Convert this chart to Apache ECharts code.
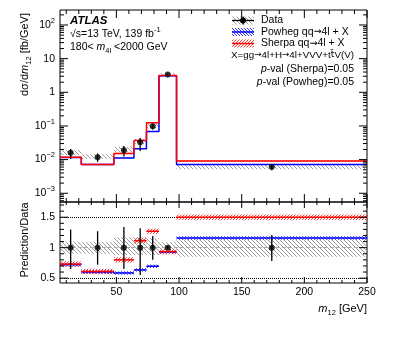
<!DOCTYPE html>
<html>
<head>
<meta charset="utf-8">
<script src="https://cdn.jsdelivr.net/npm/echarts@6/dist/echarts.min.js"></script>
<style>
html, body { margin: 0; padding: 0; background: #fff; }
#chart { width: 399px; height: 337px; }
</style>
</head>
<body>
<div id="chart"></div>
<script>
// m12 bin edges [GeV]
const binEdges = [5, 22, 48, 64, 74, 84, 98, 250];
// measured dsigma/dm12 [fb/GeV] with error bars
const dataVal = [0.016, 0.0118, 0.019, 0.033, 0.098, 3.36, 0.0061];
const dataLo = [0.0105, 0.0086, 0.0124, 0.018, 0.078, 3.2, 0.0048];
const dataHi = [0.0208, 0.0152, 0.0255, 0.044, 0.117, 3.5, 0.0074];
// hatched grey band (top panel)
const bandLo = [0.0135, 0.0105, 0.0165, 0.029, 0.085, 3.0, 0.0052];
const bandHi = [0.019, 0.0145, 0.024, 0.041, 0.115, 3.7, 0.0069];
// predictions
const sherpaVal = [0.0117, 0.0072, 0.0152, 0.0368, 0.124, 3.14, 0.0091];
const powhegVal = [0.0115, 0.0071, 0.0111, 0.021, 0.068, 3.12, 0.0071];
// ratio panel
const sherpaRatio = [0.73, 0.61, 0.80, 1.115, 1.27, 0.935, 1.50];
const powhegRatio = [0.72, 0.60, 0.585, 0.635, 0.695, 0.93, 1.16];
const sherpaUnc = [0.045, 0.045, 0.045, 0.045, 0.045, 0.045, 0.045];
const powhegUnc = [0.028, 0.028, 0.028, 0.028, 0.028, 0.028, 0.028];
const ratioData = [1, 1, 1, 1, 1, 1, 1];
const ratioErrLo = [0.65, 0.72, 0.65, 0.55, 0.80, 0.97, 0.78];
const ratioErrHi = [1.30, 1.27, 1.34, 1.32, 1.19, 1.03, 1.21];
const ratioBandLo = [0.90, 0.90, 0.88, 0.88, 0.88, 0.90, 0.85];
const ratioBandHi = [1.10, 1.09, 1.17, 1.17, 1.15, 1.09, 1.14];

const FF = '"Liberation Sans", Arial, sans-serif';
const chart = echarts.init(document.getElementById('chart'));

function hatch(color, dir, step, lw) {
  const c = document.createElement('canvas');
  c.width = step; c.height = step;
  const g = c.getContext('2d');
  g.strokeStyle = color; g.lineWidth = lw;
  g.beginPath();
  for (let k = -step; k <= step; k += step) {
    if (dir === '\\') { g.moveTo(k, 0); g.lineTo(k + step, step); }
    else { g.moveTo(k, step); g.lineTo(k + step, 0); }
  }
  g.stroke();
  return { image: c, repeat: 'repeat' };
}
const greyHatch = hatch('#9a9a9a', '\\', 4, 1);
const redHatch = hatch('#ff4040', '/', 3, 1);
const blueHatch = hatch('#3030ff', '\\', 3, 1);

const mids = binEdges.slice(0, -1).map((e, i) => (e + binEdges[i + 1]) / 2);

function bandSeries(xi, lo, hi, fill, z) {
  return {
    type: 'custom', xAxisIndex: xi, yAxisIndex: xi, z: z, silent: true,
    data: lo.map((l, i) => [binEdges[i], binEdges[i + 1], l, hi[i]]),
    encode: { x: [0, 1], y: [2, 3] },
    renderItem: (params, api) => {
      const p0 = api.coord([api.value(0), api.value(3)]);
      const p1 = api.coord([api.value(1), api.value(2)]);
      return { type: 'rect', shape: { x: p0[0], y: p0[1], width: p1[0] - p0[0], height: p1[1] - p0[1] }, style: { fill: fill } };
    }
  };
}
function segSeries(xi, vals, color, z) {
  return {
    type: 'custom', xAxisIndex: xi, yAxisIndex: xi, z: z, silent: true,
    data: vals.map((v, i) => [binEdges[i], binEdges[i + 1], v]),
    encode: { x: [0, 1], y: 2 },
    renderItem: (params, api) => {
      const p0 = api.coord([api.value(0), api.value(2)]);
      const p1 = api.coord([api.value(1), api.value(2)]);
      return { type: 'line', shape: { x1: p0[0], y1: p0[1], x2: p1[0], y2: p1[1] }, style: { stroke: color, lineWidth: 1.5 } };
    }
  };
}
function stepSeries(vals, color, z) {
  const pts = vals.map((v, i) => [binEdges[i], v]);
  pts.push([binEdges[binEdges.length - 1], vals[vals.length - 1]]);
  return {
    type: 'line', xAxisIndex: 0, yAxisIndex: 0, z: z, step: 'end', silent: true,
    showSymbol: false, symbol: 'none', data: pts,
    lineStyle: { color: color, width: 1.5 }
  };
}
function errSeries(xi, lo, hi) {
  return {
    type: 'custom', xAxisIndex: xi, yAxisIndex: xi, z: 8, silent: true,
    data: lo.map((l, i) => [mids[i], l, hi[i]]),
    encode: { x: 0, y: [1, 2] },
    renderItem: (params, api) => {
      const a = api.coord([api.value(0), api.value(1)]);
      const b = api.coord([api.value(0), api.value(2)]);
      return { type: 'line', shape: { x1: a[0], y1: a[1], x2: b[0], y2: b[1] }, style: { stroke: '#000', lineWidth: 1.3 } };
    }
  };
}
function pointSeries(xi, vals) {
  return {
    type: 'scatter', xAxisIndex: xi, yAxisIndex: xi, z: 9, silent: true,
    symbol: 'circle', symbolSize: 6, itemStyle: { color: '#000' },
    data: vals.map((v, i) => [mids[i], v])
  };
}
// ticks on all four sides, ROOT style
function tickSeries(xi, yRef, yTicks, xLen) {
  const items = [];
  for (let v = 10; v <= 250; v += 10) items.push([v, yRef, v % 50 === 0 ? xLen[0] : xLen[1], 0]);
  yTicks.forEach(t => items.push([10, t[0], t[1], 1]));
  return {
    type: 'custom', xAxisIndex: xi, yAxisIndex: xi, z: 20, silent: true,
    data: items,
    encode: { x: 0, y: 1 },
    renderItem: (params, api) => {
      const cs = params.coordSys;
      const p = api.coord([api.value(0), api.value(1)]);
      const len = api.value(2);
      const st = { stroke: '#000', lineWidth: 1 };
      if (api.value(3) === 0) {
        return { type: 'group', children: [
          { type: 'line', shape: { x1: p[0], y1: cs.y + cs.height, x2: p[0], y2: cs.y + cs.height - len }, style: st },
          { type: 'line', shape: { x1: p[0], y1: cs.y, x2: p[0], y2: cs.y + len }, style: st }
        ] };
      }
      return { type: 'group', children: [
        { type: 'line', shape: { x1: cs.x, y1: p[1], x2: cs.x + len, y2: p[1] }, style: st },
        { type: 'line', shape: { x1: cs.x + cs.width, y1: p[1], x2: cs.x + cs.width - len, y2: p[1] }, style: st }
      ] };
    }
  };
}

const logMin = 0.00055, logMax = 279;
const logTicks = [];
for (let k = -4; k <= 2; k++) {
  for (let m = 1; m <= 9; m++) {
    const v = m * Math.pow(10, k);
    if (v > logMin && v < logMax) logTicks.push([v, m === 1 ? 8 : 4]);
  }
}
const ratioTicks = [];
for (let i = 5; i <= 17; i++) ratioTicks.push([i / 10, i % 5 === 0 ? 8 : 4]);

const lbl = { fontFamily: FF, fontSize: 10.5, color: '#000' };
const supRich = { sup: { fontFamily: FF, fontSize: 7.5, verticalAlign: 'top', lineHeight: 17 } };
const legRich = {
  a: { fontFamily: '"DejaVu Sans", sans-serif', fontSize: 9.5 },
  i: { fontFamily: FF, fontSize: 10.5, fontStyle: 'italic' }
};

const option = {
  animation: false,
  backgroundColor: '#fff',
  grid: [
    { left: 60, right: 32, top: 10, height: 192, show: true, borderColor: '#000', borderWidth: 1, backgroundColor: 'transparent' },
    { left: 60, right: 32, top: 202, height: 81, show: true, borderColor: '#000', borderWidth: 1, backgroundColor: 'transparent' }
  ],
  xAxis: [
    { type: 'value', gridIndex: 0, min: 5, max: 250, axisLine: { show: false }, axisTick: { show: false }, splitLine: { show: false }, axisLabel: { show: false } },
    { type: 'value', gridIndex: 1, min: 5, max: 250, axisLine: { show: false }, axisTick: { show: false }, splitLine: { show: false },
      axisLabel: Object.assign({ margin: 4, showMinLabel: false, formatter: v => (v % 50 === 0 ? String(v) : '') }, lbl) }
  ],
  yAxis: [
    { type: 'log', gridIndex: 0, min: logMin, max: logMax, axisLine: { show: false }, axisTick: { show: false }, splitLine: { show: false },
      axisLabel: Object.assign({ margin: 5, lineHeight: 17, rich: supRich, showMinLabel: false, showMaxLabel: false,
        formatter: v => {
          const l = Math.log10(v), e = Math.round(l);
          if (Math.abs(l - e) > 1e-6) return '';
          if (e === 0) return '1';
          if (e === 1) return '10';
          return '10{sup|' + (e < 0 ? '\u2212' + (-e) : e) + '}';
        } }, lbl) },
    { type: 'value', gridIndex: 1, min: 0.42, max: 1.75, splitNumber: 2, axisLine: { show: false }, axisTick: { show: false }, splitLine: { show: false },
      axisLabel: Object.assign({ margin: 5, showMinLabel: false, showMaxLabel: false,
        formatter: v => (Math.abs(v * 2 - Math.round(v * 2)) < 1e-6 ? String(v) : '') }, lbl) }
  ],
  series: [
    // top panel
    bandSeries(0, bandLo, bandHi, greyHatch, 2),
    bandSeries(0, powhegVal.map((v, i) => v * (1 - powhegUnc[i])), powhegVal.map((v, i) => v * (1 + powhegUnc[i])), blueHatch, 3),
    bandSeries(0, sherpaVal.map((v, i) => v * (1 - sherpaUnc[i])), sherpaVal.map((v, i) => v * (1 + sherpaUnc[i])), redHatch, 3),
    stepSeries(powhegVal, '#0000ff', 5),
    stepSeries(sherpaVal, '#ff0000', 6),
    errSeries(0, dataLo, dataHi),
    pointSeries(0, dataVal),
    tickSeries(0, 1, logTicks, [8, 4]),
    // ratio panel
    bandSeries(1, ratioBandLo, ratioBandHi, greyHatch, 2),
    {
      type: 'line', xAxisIndex: 1, yAxisIndex: 1, data: [], silent: true,
      markLine: { silent: true, symbol: 'none', label: { show: false }, data: [
        { yAxis: 0.5, lineStyle: { type: 'dotted', color: '#000', width: 1 } },
        { yAxis: 1.5, lineStyle: { type: 'dotted', color: '#000', width: 1 } },
        { yAxis: 1, lineStyle: { type: 'dashed', color: '#aaa', width: 1 } }
      ] }
    },
    bandSeries(1, powhegRatio.map((v, i) => v - powhegUnc[i]), powhegRatio.map((v, i) => v + powhegUnc[i]), blueHatch, 3),
    bandSeries(1, sherpaRatio.map((v, i) => v - sherpaUnc[i]), sherpaRatio.map((v, i) => v + sherpaUnc[i]), redHatch, 3),
    segSeries(1, powhegRatio, '#0000ff', 5),
    segSeries(1, sherpaRatio, '#ff0000', 6),
    errSeries(1, ratioErrLo, ratioErrHi),
    pointSeries(1, ratioData),
    tickSeries(1, 1, ratioTicks, [6, 3])
  ],
  graphic: [
    { type: 'text', x: 70, y: 21, style: { text: 'ATLAS', fontFamily: FF, fontSize: 11.5, fontWeight: 'bold', fontStyle: 'italic', fill: '#000', verticalAlign: 'middle' } },
    { type: 'text', x: 70, y: 34, style: { text: '\u221As=13 TeV, 139 fb{sup|-1}', fontFamily: FF, fontSize: 10.5, fill: '#000', verticalAlign: 'middle', lineHeight: 17, rich: supRich } },
    { type: 'text', x: 70, y: 47, style: { text: '180< {i|m}{sub|4l} <2000 GeV', fontFamily: FF, fontSize: 10.5, fill: '#000', verticalAlign: 'middle', lineHeight: 15,
      rich: { i: { fontFamily: FF, fontSize: 10.5, fontStyle: 'italic', lineHeight: 15 }, sub: { fontFamily: FF, fontSize: 7.5, verticalAlign: 'bottom', lineHeight: 15 } } } },
    // y titles
    { type: 'text', x: 25, y: 13, rotation: Math.PI / 2, style: { text: 'd\u03C3/d{i|m}{sub|12} [fb/GeV]', fontFamily: FF, fontSize: 11, fill: '#000', align: 'right', verticalAlign: 'middle', lineHeight: 15,
      rich: { i: { fontFamily: FF, fontSize: 11, fontStyle: 'italic', lineHeight: 15 }, sub: { fontFamily: FF, fontSize: 7.5, verticalAlign: 'bottom', lineHeight: 15 } } } },
    { type: 'text', x: 25, y: 240, rotation: Math.PI / 2, style: { text: 'Prediction/Data', fontFamily: FF, fontSize: 11, fill: '#000', align: 'center', verticalAlign: 'middle' } },
    { type: 'text', x: 367, y: 309, style: { text: '{i|m}{sub|12} [GeV]', fontFamily: FF, fontSize: 11, fill: '#000', align: 'right', verticalAlign: 'middle', lineHeight: 15,
      rich: { i: { fontFamily: FF, fontSize: 11, fontStyle: 'italic', lineHeight: 15 }, sub: { fontFamily: FF, fontSize: 7.5, verticalAlign: 'bottom', lineHeight: 15 } } } },
    // legend
    { type: 'rect', shape: { x: 232, y: 16.5, width: 22, height: 8 }, style: { fill: greyHatch } },
    { type: 'line', shape: { x1: 232, y1: 20.5, x2: 254, y2: 20.5 }, style: { stroke: '#000', lineWidth: 1.3 } },
    { type: 'line', shape: { x1: 243, y1: 16.5, x2: 243, y2: 24.5 }, style: { stroke: '#000', lineWidth: 1.3 } },
    { type: 'circle', shape: { cx: 243, cy: 20.5, r: 3 }, style: { fill: '#000' } },
    { type: 'text', x: 261, y: 20.5, style: { text: 'Data', fontFamily: FF, fontSize: 10.5, fill: '#000', verticalAlign: 'middle' } },
    { type: 'rect', shape: { x: 232, y: 28, width: 22, height: 8 }, style: { fill: blueHatch } },
    { type: 'line', shape: { x1: 232, y1: 32, x2: 254, y2: 32 }, style: { stroke: '#0000ff', lineWidth: 1.5 } },
    { type: 'text', x: 261, y: 32, style: { text: 'Powheg qq{a|\u2192}4l + X', fontFamily: FF, fontSize: 10.5, fill: '#000', verticalAlign: 'middle', rich: legRich } },
    { type: 'rect', shape: { x: 232, y: 39.5, width: 22, height: 8 }, style: { fill: redHatch } },
    { type: 'line', shape: { x1: 232, y1: 43.5, x2: 254, y2: 43.5 }, style: { stroke: '#ff0000', lineWidth: 1.5 } },
    { type: 'text', x: 261, y: 43.5, style: { text: 'Sherpa qq{a|\u2192}4l + X', fontFamily: FF, fontSize: 10.5, fill: '#000', verticalAlign: 'middle', rich: legRich } },
    { type: 'text', x: 354, y: 55, style: { text: 'X=gg{b|\u2192}4l+H{b|\u2192}4l+VVV+t{c|t\u0304}V(V)', fontFamily: FF, fontSize: 9.8, fill: '#000', align: 'right', verticalAlign: 'middle',
      rich: { b: { fontFamily: '"DejaVu Sans", sans-serif', fontSize: 8.8 }, c: { fontFamily: '"DejaVu Sans", sans-serif', fontSize: 9.3 } } } },
    { type: 'text', x: 354, y: 69, style: { text: '{i|p}-val (Sherpa)=0.05', fontFamily: FF, fontSize: 10.5, fill: '#000', align: 'right', verticalAlign: 'middle', rich: legRich } },
    { type: 'text', x: 354, y: 82, style: { text: '{i|p}-val (Powheg)=0.05', fontFamily: FF, fontSize: 10.5, fill: '#000', align: 'right', verticalAlign: 'middle', rich: legRich } }
  ]
};
chart.setOption(option);
</script>
</body>
</html>
